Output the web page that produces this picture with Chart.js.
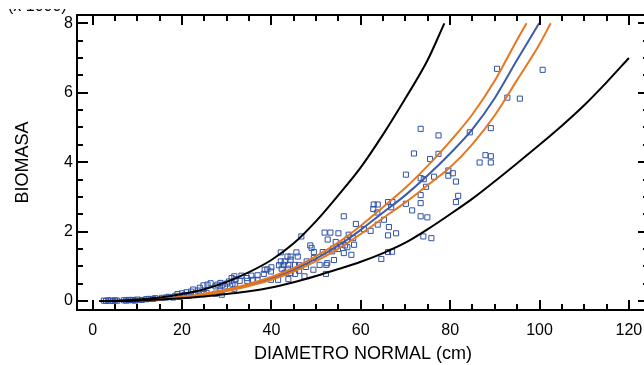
<!DOCTYPE html>
<html><head><meta charset="utf-8">
<script src="https://cdn.jsdelivr.net/npm/chart.js@4/dist/chart.umd.min.js"></script>
<style>
html,body{margin:0;padding:0;overflow:hidden;background:#fff;}
#wrap{position:relative;width:656px;height:365px;}
</style></head><body>
<div id="wrap"><canvas id="c" width="656" height="365"></canvas></div>
<script>
// ---- tick labels ----
const xTickValues = [0, 20, 40, 60, 80, 100, 120];
const yTickValues = [0, 2, 4, 6, 8];

// ---- observed trees: diameter (cm) and biomass ----
const obsDiam = [2.5,3.0,3.5,4.0,4.5,5.0,5.5,7.0,7.5,8.0,8.5,9.0,9.5,10.0,11.0,12.0,12.5,13.5,14.0,15.5,16.5,17.0,18.0,18.5,19.0,19.5,20.0,20.5,21.0,21.5,22.0,22.5,23.0,23.5,24.0,
 24.8,25.7,26.4,27.5,27.9,28.6,29.1,29.6,30.0,30.5,31.1,31.3,31.7,31.9,32.0,31.7,28.6,28.9,27.5,25.5,24.9,
 33.3,34.5,32.9,34.6,36.9,35.5,36.9,38.3,35.9,39.9,39.1,38.5,40.0,43.8,41.5,39.9,
 42.3,43.0,43.7,44.3,45.3,46.2,41.7,42.7,43.8,45.3,46.2,42.1,43.0,44.3,42.1,45.6,43.6,44.3,45.9,
 47.9,47.7,49.5,50.8,52.3,52.5,54.0,49.4,47.4,52.2,46.7,48.7,49.0,49.5,51.5,53.6,51.9,53.2,55.0,52.6,54.4,
 56.2,57.3,58.3,56.9,60.7,58.9,55.5,56.5,58.5,53.8,54.9,56.2,57.9,57.0,
 62.9,63.8,62.8,63.7,66.1,67.1,66.8,70.1,71.5,65.2,63.8,62.2,66.3,67.9,66.1,66.1,67.0,64.6,
 73.4,74.9,74.0,75.8,70.1,73.4,74.1,76.4,79.6,80.6,79.6,81.3,74.6,73.4,81.8,81.3,73.4,
 71.9,75.5,77.4,87.9,89.1,86.6,89.1,73.4,77.4,84.4,89.1,90.5,100.7,92.8,95.6];
const obsBiomass = [0.01,0.00,0.02,0.01,0.00,0.02,0.01,0.02,0.01,0.03,0.02,0.03,0.01,0.04,0.03,0.05,0.06,0.06,0.08,0.09,0.10,0.12,0.10,0.15,0.20,0.12,0.22,0.17,0.25,0.15,0.27,0.33,0.18,0.30,0.38,
 0.45,0.47,0.51,0.42,0.47,0.52,0.47,0.42,0.50,0.56,0.66,0.47,0.71,0.45,0.63,0.35,0.28,0.18,0.21,0.23,0.20,
 0.73,0.66,0.58,0.58,0.74,0.73,0.61,0.78,0.61,0.85,0.91,0.90,0.97,0.63,0.61,0.61,
 0.93,0.81,0.93,0.81,0.78,0.87,1.03,1.04,1.03,1.04,1.03,1.14,1.14,1.19,1.40,1.40,1.28,1.28,1.28,
 1.14,0.98,1.24,1.04,1.04,1.09,1.18,0.90,0.71,0.78,1.86,1.60,1.53,1.41,1.41,1.43,1.97,1.97,1.95,1.77,1.70,
 2.44,1.91,1.81,1.76,2.07,2.22,1.62,1.60,1.62,1.51,1.50,1.38,1.33,1.55,
 2.78,2.78,2.65,2.55,2.85,2.85,2.70,2.80,2.61,2.34,2.20,2.02,2.13,1.95,1.89,1.41,1.42,1.21,
 2.44,2.41,1.86,1.81,3.64,3.54,3.51,3.58,3.76,3.68,3.61,3.44,3.29,3.05,3.03,2.85,2.82,
 4.25,4.09,4.24,4.20,4.17,3.99,3.99,4.96,4.77,4.86,4.98,6.69,6.66,5.86,5.83];

// ---- fitted curve (blue) ----
const fitDiam = [1.5,5,10,15,20,25,30,35,40,45,50,55,60,65,70,75,80,85,90,95,99.9];
const fitBiomass = [0,0.002,0.015,0.05,0.11,0.19,0.31,0.46,0.65,0.9,1.22,1.6,2.05,2.55,3.05,3.62,4.25,4.95,5.85,6.95,8.0];

// ---- confidence band (orange) ----
const confUpDiam = [1.5,5,10,15,20,25,30,35,40,45,50,55,60,65,70,75,80,85,90,95,97.1];
const confUpBiomass = [0,0.004,0.02,0.06,0.125,0.21,0.33,0.49,0.69,0.95,1.29,1.69,2.17,2.71,3.26,3.9,4.6,5.38,6.35,7.53,8.0];
const confLoDiam = [1.5,5,10,15,20,25,30,35,40,45,50,55,60,65,70,75,80,85,90,95,100,102.5];
const confLoBiomass = [0,0,0.01,0.04,0.095,0.17,0.29,0.43,0.61,0.85,1.15,1.51,1.93,2.39,2.84,3.34,3.85,4.52,5.35,6.37,7.4,8.0];

// ---- prediction band (black) ----
const predUpDiam = [1.5,5,10,15,20,25,30,35,40,45,50,55,60,65,70,75,78.7];
const predUpBiomass = [0,0.005,0.04,0.1,0.2,0.34,0.55,0.83,1.18,1.66,2.3,3.05,3.85,4.8,5.84,6.95,8.0];
const predLoDiam = [1.5,5,10,15,20,25,30,35,40,45,50,55,60,65,70,75,80,85,90,95,100,105,110,115,120];
const predLoBiomass = [0,0,0.01,0.04,0.08,0.13,0.2,0.28,0.39,0.54,0.72,0.92,1.13,1.38,1.68,2.07,2.5,2.95,3.45,3.97,4.5,5.05,5.64,6.3,7.0];

const pts = (xs, ys) => xs.map((x, i) => ({x: x, y: ys[i]}));

const FONT = "'Liberation Sans', Arial, Helvetica, sans-serif";
Chart.defaults.font.family = FONT;
Chart.defaults.color = '#000';

const lineDs = (label, xs, ys, color, order) => ({
  label, data: pts(xs, ys), showLine: true, borderColor: color, backgroundColor: color,
  borderWidth: 2, pointRadius: 0, pointHoverRadius: 0, fill: false,
  cubicInterpolationMode: 'monotone', order
});

const framePlugin = {
  id: 'frame',
  afterDatasetsDraw(chart) {
    const {ctx, chartArea: a, scales} = chart;
    const xs = scales.x, ys = scales.y;
    ctx.save();
    ctx.strokeStyle = '#000';
    ctx.lineWidth = 2;
    ctx.lineCap = 'butt';
    ctx.beginPath();
    ctx.rect(a.left, a.top, a.right - a.left, a.bottom - a.top);
    ctx.stroke();
    ctx.beginPath();
    for (let v = 0; v <= 120; v += 5) {
      const px = Math.round(xs.getPixelForValue(v));
      const len = (v % 20 === 0) ? 10 : 6;
      ctx.moveTo(px, a.bottom); ctx.lineTo(px, a.bottom - len);
      ctx.moveTo(px, a.top); ctx.lineTo(px, a.top + len);
    }
    for (let v = 0; v <= 8.001; v += 0.5) {
      const py = Math.round(ys.getPixelForValue(v));
      const len = (Math.abs(v % 2) < 1e-6) ? 11 : 6;
      ctx.moveTo(a.left, py); ctx.lineTo(a.left + len, py);
      ctx.moveTo(a.right, py); ctx.lineTo(a.right - len, py);
    }
    ctx.stroke();
    ctx.restore();
  },
  afterDraw(chart) {
    const ctx = chart.ctx;
    ctx.save();
    ctx.beginPath();
    ctx.rect(0, 9, 80, 6);
    ctx.clip();
    ctx.fillStyle = '#000';
    ctx.font = '16px ' + FONT;
    ctx.textBaseline = 'alphabetic';
    ctx.textAlign = 'left';
    ctx.fillText('(x 1000)', 8, 11);
    ctx.restore();
  }
};

new Chart(document.getElementById('c'), {
  type: 'scatter',
  data: {
    datasets: [
      {
        label: 'Observado', data: pts(obsDiam, obsBiomass), showLine: false,
        pointStyle: 'rect', pointRadius: 3.6, pointBorderWidth: 1,
        borderColor: '#2f52a8', backgroundColor: 'rgba(255,255,255,0)', order: 6
      },
      lineDs('Ajuste', fitDiam, fitBiomass, '#3b5bab', 5),
      lineDs('IC sup', confUpDiam, confUpBiomass, '#e8761e', 4),
      lineDs('IC inf', confLoDiam, confLoBiomass, '#e8761e', 4),
      lineDs('IP sup', predUpDiam, predUpBiomass, '#000000', 3),
      lineDs('IP inf', predLoDiam, predLoBiomass, '#000000', 3)
    ]
  },
  options: {
    responsive: false, animation: false, devicePixelRatio: 1,
    layout: {padding: {left: 0, top: 15, right: 7, bottom: 0}},
    plugins: {legend: {display: false}, tooltip: {enabled: false}},
    scales: {
      x: {
        type: 'linear', position: 'bottom', min: -3.5, max: 124.5,
        afterBuildTicks: s => { s.ticks = xTickValues.map(v => ({value: v})); },
        afterFit: s => { s.height = 55; },
        grid: {display: false, drawTicks: false}, border: {display: false},
        ticks: {font: {size: 16}, color: '#000', padding: 11, maxRotation: 0, autoSkip: false},
        title: {display: true, text: 'DIAMETRO NORMAL (cm)', font: {size: 18}, color: '#000', padding: {top: 0, bottom: 0}}
      },
      y: {
        type: 'linear', position: 'left', min: -0.26, max: 8.24,
        afterBuildTicks: s => { s.ticks = yTickValues.map(v => ({value: v})); },
        afterFit: s => { s.width = 77; },
        grid: {display: false, drawTicks: false}, border: {display: false},
        ticks: {font: {size: 16}, color: '#000', padding: 4},
        title: {display: true, text: 'BIOMASA', font: {size: 18}, color: '#000', padding: {top: 12, bottom: 0}}
      }
    }
  },
  plugins: [framePlugin]
});
</script>
</body></html>
